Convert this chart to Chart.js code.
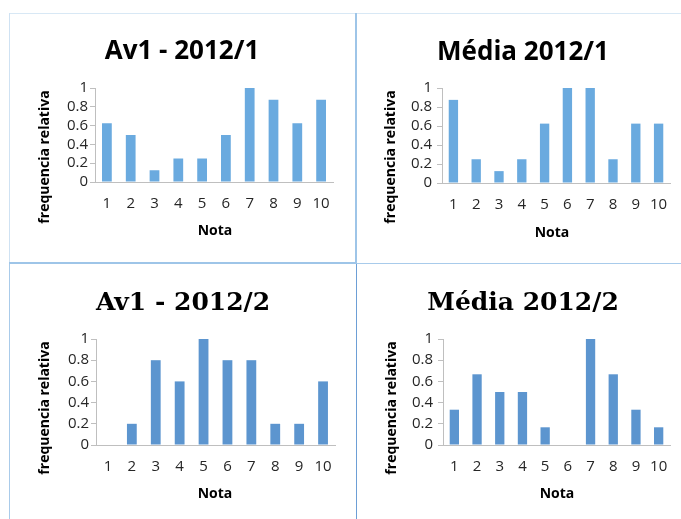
<!DOCTYPE html>
<html>
<head>
<meta charset="utf-8">
<script src="https://cdn.jsdelivr.net/npm/chart.js@4.4.0/dist/chart.umd.min.js"></script>
<style>
  html, body { margin: 0; padding: 0; background: #fff; }
  #page { position: relative; width: 681px; height: 519px; overflow: hidden; background: #fff; }
  .panel { position: absolute; }
  .rule { position: absolute; z-index: 2; }
  canvas { display: block; }
</style>
</head>
<body>
<div id="page">
  <div class="rule" style="left:9px;top:13px;width:672px;height:1px;background:#d8e8f5"></div>
  <div class="rule" style="left:9px;top:13px;width:1px;height:250px;background:#cfe2f3"></div>
  <div class="rule" style="left:355px;top:13px;width:2px;height:251px;background:#9ec5e8"></div>
  <div class="rule" style="left:9px;top:262px;width:348px;height:2px;background:#9ec5e8"></div>
  <div class="rule" style="left:357px;top:263px;width:324px;height:1px;background:#a8cbeb"></div>
  <div class="rule" style="left:356px;top:264px;width:1px;height:255px;background:#6d9fd6"></div>
  <div class="rule" style="left:9px;top:264px;width:1px;height:255px;background:#a9cbea"></div>

  <div class="panel" style="left:10px;top:14px"><canvas id="c0" width="345" height="248"></canvas></div>
  <div class="panel" style="left:357px;top:14px"><canvas id="c1" width="324" height="249"></canvas></div>
  <div class="panel" style="left:10px;top:264px"><canvas id="c2" width="346" height="255"></canvas></div>
  <div class="panel" style="left:357px;top:264px"><canvas id="c3" width="324" height="255"></canvas></div>
</div>
<script>
// Grades 1..10 and the relative frequency of each grade
const notas = ['1', '2', '3', '4', '5', '6', '7', '8', '9', '10'];
const av1_2012_1   = [0.625, 0.5, 0.125, 0.25, 0.25, 0.5, 1, 0.875, 0.625, 0.875];
const media_2012_1 = [0.875, 0.25, 0.125, 0.25, 0.625, 1, 1, 0.25, 0.625, 0.625];
const av1_2012_2   = [0, 0.2, 0.8, 0.6, 1, 0.8, 0.8, 0.2, 0.2, 0.6];
const media_2012_2 = [0.333, 0.667, 0.5, 0.5, 0.167, 0, 1, 0.667, 0.333, 0.167];
const yTicks = [0, 0.2, 0.4, 0.6, 0.8, 1];

const titles = ['Av1 - 2012/1', 'Média 2012/1', 'Av1 - 2012/2', 'Média 2012/2'];
const xTitle = 'Nota';
const yTitle = 'frequencia relativa';

// Page geometry of each panel (canvas origin, plot box, text anchors)
const panels = [
  { id: 'c0', data: av1_2012_1, ox: 10, oy: 14, w: 345, h: 248,
    plot: { l: 95, r: 333, t: 88, b: 182 }, tickGap: 2,
    titleX: 182, titleY: 59, titleFont: 'bold 26px "Open Sans"',
    xTitleX: 215, xTitleY: 235, yTitleX: 45, yTitleY: 157, color: '#6aaadf' },
  { id: 'c1', data: media_2012_1, ox: 357, oy: 14, w: 324, h: 249,
    plot: { l: 442, r: 670, t: 88, b: 183 }, tickGap: 5,
    titleX: 523, titleY: 60, titleFont: 'bold 26px "Open Sans"',
    xTitleX: 552, xTitleY: 237, yTitleX: 391, yTitleY: 157, color: '#6aaadf' },
  { id: 'c2', data: av1_2012_2, ox: 10, oy: 264, w: 346, h: 255,
    plot: { l: 96, r: 335, t: 339, b: 445 }, tickGap: 2,
    titleX: 183, titleY: 310, titleFont: 'bold 25px "DejaVu Serif"',
    xTitleX: 215, xTitleY: 498, yTitleX: 45, yTitleY: 408, color: '#5c95cf' },
  { id: 'c3', data: media_2012_2, ox: 357, oy: 264, w: 324, h: 255,
    plot: { l: 443, r: 670, t: 339, b: 445 }, tickGap: 5,
    titleX: 523, titleY: 310, titleFont: 'bold 25px "DejaVu Serif"',
    xTitleX: 557, xTitleY: 498, yTitleX: 392, yTitleY: 408, color: '#5c95cf' }
];

const Y_AXIS_W = 40;
const X_AXIS_H = 40;
const AXIS_COLOR = '#bfbfbf';
const TICK_FONT = { family: '"Open Sans", "Liberation Sans", sans-serif', size: 15 };
const AXIS_TITLE_FONT = 'bold 14px "Open Sans", "Liberation Sans", sans-serif';

// Draws chart title and axis titles at fixed anchors
const panelText = {
  id: 'panelText',
  afterDraw(chart, args, o) {
    const ctx = chart.ctx;
    ctx.save();
    ctx.fillStyle = '#000';
    ctx.textAlign = 'center';
    ctx.textBaseline = 'alphabetic';
    ctx.font = o.titleFont;
    ctx.fillText(o.title, o.titleX, o.titleY);
    ctx.font = AXIS_TITLE_FONT;
    ctx.fillText(o.xTitle, o.xTitleX, o.xTitleY);
    ctx.translate(o.yTitleX, o.yTitleY);
    ctx.rotate(-Math.PI / 2);
    ctx.textBaseline = 'middle';
    ctx.fillText(o.yTitle, 0, 0);
    ctx.restore();
  }
};

panels.forEach((p, i) => {
  const padding = {
    left: p.plot.l - p.ox - Y_AXIS_W,
    top: p.plot.t - p.oy,
    right: p.ox + p.w - p.plot.r,
    bottom: p.oy + p.h - p.plot.b - X_AXIS_H
  };
  new Chart(document.getElementById(p.id), {
    type: 'bar',
    data: {
      labels: notas,
      datasets: [{
        data: p.data,
        backgroundColor: p.color,
        borderWidth: 0,
        categoryPercentage: 1,
        barPercentage: 0.41
      }]
    },
    options: {
      responsive: false,
      animation: false,
      layout: { padding },
      plugins: {
        legend: { display: false },
        title: { display: false },
        tooltip: { enabled: false },
        panelText: {
          title: titles[i],
          titleFont: p.titleFont,
          titleX: p.titleX - p.ox,
          titleY: p.titleY - p.oy,
          xTitle: xTitle,
          xTitleX: p.xTitleX - p.ox,
          xTitleY: p.xTitleY - p.oy,
          yTitle: yTitle,
          yTitleX: p.yTitleX - p.ox,
          yTitleY: p.yTitleY - p.oy
        }
      },
      scales: {
        x: {
          type: 'category',
          offset: true,
          grid: { display: false, drawTicks: false },
          border: { display: true, color: AXIS_COLOR, width: 1 },
          ticks: { color: '#262626', font: TICK_FONT, padding: 13, maxRotation: 0, autoSkip: false },
          afterFit: s => { s.height = X_AXIS_H; }
        },
        y: {
          min: 0,
          max: 1,
          grid: { display: true, drawOnChartArea: false, drawTicks: true, tickLength: 5, color: AXIS_COLOR },
          border: { display: true, color: AXIS_COLOR, width: 1 },
          ticks: {
            color: '#262626', font: TICK_FONT, padding: p.tickGap, autoSkip: false,
            callback: v => String(Number(v.toFixed(1)))
          },
          afterBuildTicks: s => { s.ticks = yTicks.map(v => ({ value: v })); },
          afterFit: s => { s.width = Y_AXIS_W; }
        }
      }
    },
    plugins: [panelText]
  });
});
</script>
</body>
</html>
